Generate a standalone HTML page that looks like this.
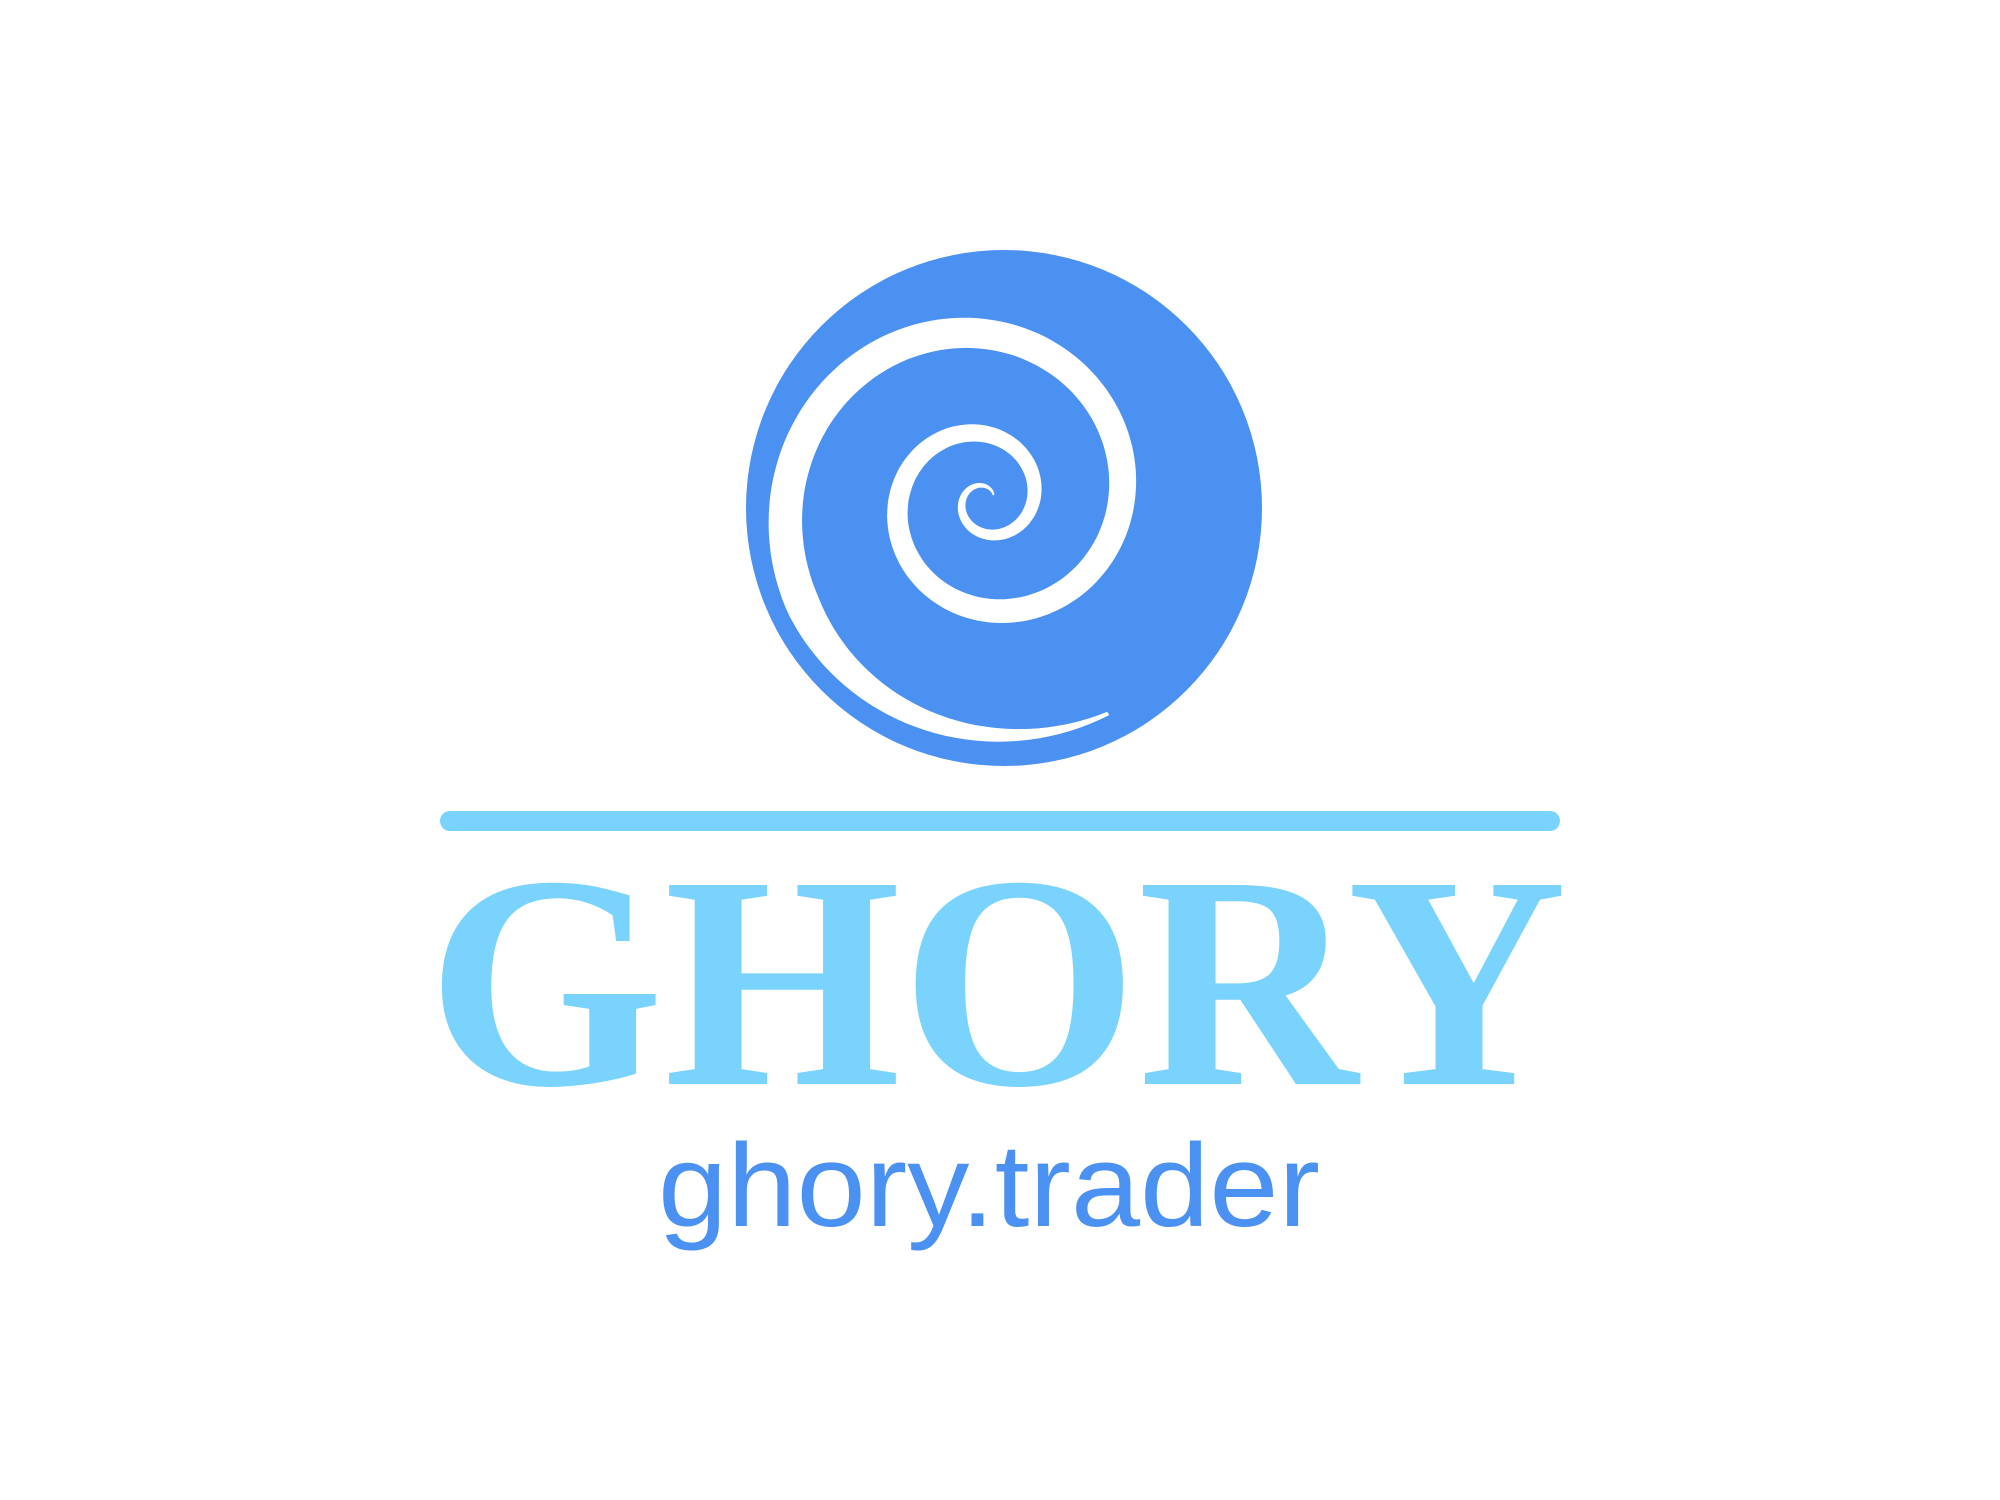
<!DOCTYPE html>
<html><head><meta charset="utf-8"><style>
html,body{margin:0;padding:0;background:#fff;}
svg{display:block}
</style></head><body>
<svg width="2000" height="1500" viewBox="0 0 2000 1500">
  <ellipse cx="1004" cy="508" rx="258" ry="258" fill="#4b91f1"/>
  <path id="sp" fill="#fff"/>
  <rect x="440" y="811" width="1120" height="20" rx="10" fill="#79d3fc"/>
  <text x="997" y="1084" text-anchor="middle" font-family="'Liberation Serif',serif" font-weight="bold" font-size="304" fill="#79d3fc" textLength="1140" lengthAdjust="spacingAndGlyphs">GHORY</text>
  <text x="658" y="1226" font-family="'Liberation Sans',sans-serif" font-size="118" fill="#4b91f1" textLength="662" lengthAdjust="spacingAndGlyphs">ghory.trader</text>
</svg>
<script>
var cx=985, cy=500, a0=-30*Math.PI/180, N=400, T=5.5;
var outer=[], inner=[];
for(var i=0;i<=N;i++){
  var t=T*i/N;
  var th=a0 - t*Math.PI;
  var r=10+10*t+6*t*t;
  var w=2+6.5*t;
  if(t>5) w=w*(1-(t-5)/0.5*0.9);
  var c=Math.cos(th), s=Math.sin(th);
  outer.push((cx+(r+w/2)*c).toFixed(1)+','+(cy+(r+w/2)*s).toFixed(1));
  inner.push((cx+(r-w/2)*c).toFixed(1)+','+(cy+(r-w/2)*s).toFixed(1));
}
inner.reverse();
document.getElementById('sp').setAttribute('d','M'+outer.join(' L')+' L'+inner.join(' L')+'Z');
</script>
</body></html>
